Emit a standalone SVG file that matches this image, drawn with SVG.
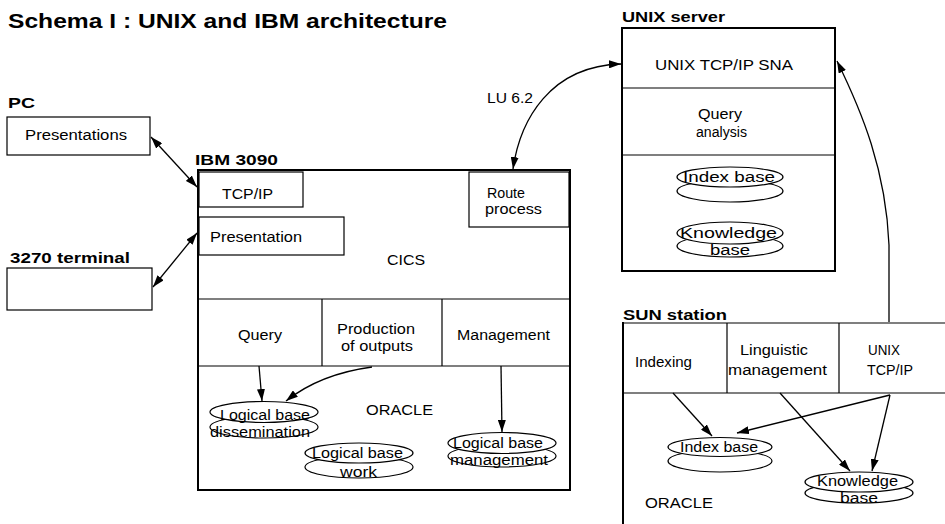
<svg xmlns="http://www.w3.org/2000/svg" width="945" height="524" viewBox="0 0 945 524">
<style>
text{font-family:"Liberation Sans",Arial,sans-serif;fill:#000;}
.t{font-size:20px;font-weight:bold;}
.lb{font-size:14px;font-weight:bold;}
.tx{font-size:14px;}
.box{fill:none;stroke:#000;stroke-width:2;}
.ln{fill:none;stroke:#000;stroke-width:1.2;}
.disk{fill:#fff;stroke:#000;stroke-width:1.2;}
.con{fill:none;stroke:#000;stroke-width:1.3;}
</style>
<defs>
<marker id="ah" viewBox="0 0 12 8" refX="12" refY="4" markerWidth="12" markerHeight="8" markerUnits="userSpaceOnUse" orient="auto-start-reverse">
<path d="M0,0 L12,4 L0,8 Z" fill="#000"/>
</marker>
</defs>
<rect width="945" height="524" fill="#fff"/>

<text class="t" x="8" y="28" textLength="439" lengthAdjust="spacingAndGlyphs">Schema I : UNIX and IBM architecture</text>

<g id="pc">
<text class="lb" x="8" y="108" textLength="27" lengthAdjust="spacingAndGlyphs">PC</text>
<rect class="ln" x="7" y="117" width="143" height="38"/>
<text class="tx" x="25" y="140" textLength="102" lengthAdjust="spacingAndGlyphs">Presentations</text>
</g>

<g id="terminal3270">
<text class="lb" x="10" y="263" textLength="120" lengthAdjust="spacingAndGlyphs">3270 terminal</text>
<rect class="ln" x="7" y="268" width="145" height="42"/>
</g>

<g id="ibm3090">
<text class="lb" x="195" y="165" textLength="83" lengthAdjust="spacingAndGlyphs">IBM 3090</text>
<rect class="box" x="198" y="170" width="372" height="320"/>
<rect class="ln" x="199" y="172" width="104" height="35"/>
<text class="tx" x="222" y="199" textLength="51" lengthAdjust="spacingAndGlyphs">TCP/IP</text>
<rect class="ln" x="199" y="217" width="145" height="38"/>
<text class="tx" x="210" y="242" textLength="92" lengthAdjust="spacingAndGlyphs">Presentation</text>
<rect class="ln" x="469" y="172" width="100" height="55"/>
<text class="tx" x="487" y="198" textLength="38" lengthAdjust="spacingAndGlyphs">Route</text>
<text class="tx" x="485" y="214" textLength="57" lengthAdjust="spacingAndGlyphs">process</text>
<text class="tx" x="387" y="265" textLength="38" lengthAdjust="spacingAndGlyphs">CICS</text>
<line class="ln" x1="198" y1="299" x2="570" y2="299"/>
<line class="ln" x1="322" y1="299" x2="322" y2="366"/>
<line class="ln" x1="442" y1="299" x2="442" y2="366"/>
<line class="ln" x1="198" y1="366" x2="570" y2="366"/>
<text class="tx" x="238" y="340" textLength="44" lengthAdjust="spacingAndGlyphs">Query</text>
<text class="tx" x="337" y="334" textLength="78" lengthAdjust="spacingAndGlyphs">Production</text>
<text class="tx" x="341" y="351" textLength="72" lengthAdjust="spacingAndGlyphs">of outputs</text>
<text class="tx" x="457" y="340" textLength="93" lengthAdjust="spacingAndGlyphs">Management</text>
<text class="tx" x="366" y="415" textLength="67" lengthAdjust="spacingAndGlyphs">ORACLE</text>
</g>

<g id="lb-dissemination">
<ellipse class="disk" cx="264" cy="427" rx="54" ry="11"/>
<ellipse class="disk" cx="264" cy="412" rx="54" ry="10.5"/>
<text class="tx" x="220" y="420" textLength="90" lengthAdjust="spacingAndGlyphs">Logical base</text>
<text class="tx" x="210" y="437" textLength="100" lengthAdjust="spacingAndGlyphs">dissemination</text>
</g>
<g id="lb-work">
<ellipse class="disk" cx="359" cy="467" rx="54" ry="11"/>
<ellipse class="disk" cx="359" cy="453" rx="54" ry="10"/>
<text class="tx" x="312" y="458" textLength="91" lengthAdjust="spacingAndGlyphs">Logical base</text>
<text class="tx" x="340" y="477" textLength="37" lengthAdjust="spacingAndGlyphs">work</text>
</g>
<g id="lb-management">
<ellipse class="disk" cx="502" cy="456" rx="54" ry="11"/>
<ellipse class="disk" cx="502" cy="443" rx="54" ry="10.5"/>
<text class="tx" x="453" y="448" textLength="90" lengthAdjust="spacingAndGlyphs">Logical base</text>
<text class="tx" x="450" y="465" textLength="98" lengthAdjust="spacingAndGlyphs">management</text>
</g>

<g id="unix-server">
<text class="lb" x="622" y="22" textLength="103" lengthAdjust="spacingAndGlyphs">UNIX server</text>
<rect class="box" x="622" y="28" width="213" height="243"/>
<line class="ln" x1="622" y1="88" x2="835" y2="88"/>
<line class="ln" x1="622" y1="155" x2="835" y2="155"/>
<text class="tx" x="655" y="70" textLength="138" lengthAdjust="spacingAndGlyphs">UNIX TCP/IP SNA</text>
<text class="tx" x="698" y="119" textLength="44" lengthAdjust="spacingAndGlyphs">Query</text>
<text class="tx" x="696" y="137" textLength="51" lengthAdjust="spacingAndGlyphs">analysis</text>
</g>
<g id="unix-index-base">
<ellipse class="disk" cx="730" cy="191" rx="53" ry="11"/>
<ellipse class="disk" cx="730" cy="177" rx="53" ry="10"/>
<text class="tx" x="683" y="182" textLength="92" lengthAdjust="spacingAndGlyphs">Index base</text>
</g>
<g id="unix-knowledge-base">
<ellipse class="disk" cx="730" cy="246" rx="53" ry="11"/>
<ellipse class="disk" cx="730" cy="233" rx="53" ry="11"/>
<text class="tx" x="680" y="238" textLength="97" lengthAdjust="spacingAndGlyphs">Knowledge</text>
<text class="tx" x="710" y="255" textLength="40" lengthAdjust="spacingAndGlyphs">base</text>
</g>

<g id="sun-station">
<text class="lb" x="623" y="320" textLength="104" lengthAdjust="spacingAndGlyphs">SUN station</text>
<line class="box" x1="623" y1="322" x2="623" y2="524"/>
<line class="ln" x1="623" y1="323" x2="945" y2="323"/>
<line class="ln" x1="623" y1="393" x2="945" y2="393"/>
<line class="ln" x1="727" y1="323" x2="727" y2="393"/>
<line class="ln" x1="839" y1="323" x2="839" y2="393"/>
<text class="tx" x="635" y="367" textLength="57" lengthAdjust="spacingAndGlyphs">Indexing</text>
<text class="tx" x="740" y="355" textLength="68" lengthAdjust="spacingAndGlyphs">Linguistic</text>
<text class="tx" x="728" y="375" textLength="99" lengthAdjust="spacingAndGlyphs">management</text>
<text class="tx" x="868" y="355" textLength="32" lengthAdjust="spacingAndGlyphs">UNIX</text>
<text class="tx" x="867" y="375" textLength="46" lengthAdjust="spacingAndGlyphs">TCP/IP</text>
<text class="tx" x="645" y="508" textLength="68" lengthAdjust="spacingAndGlyphs">ORACLE</text>
</g>
<g id="sun-index-base">
<ellipse class="disk" cx="720" cy="461" rx="52" ry="11"/>
<ellipse class="disk" cx="720" cy="447" rx="52" ry="9.5"/>
<text class="tx" x="680" y="452" textLength="78" lengthAdjust="spacingAndGlyphs">Index base</text>
</g>
<g id="sun-knowledge-base">
<ellipse class="disk" cx="859" cy="493" rx="54" ry="10"/>
<ellipse class="disk" cx="859" cy="482" rx="54" ry="10"/>
<text class="tx" x="817" y="486" textLength="81" lengthAdjust="spacingAndGlyphs">Knowledge</text>
<text class="tx" x="840" y="503" textLength="38" lengthAdjust="spacingAndGlyphs">base</text>
</g>

<g id="connectors">
<line class="con" x1="151" y1="137" x2="197" y2="187" marker-start="url(#ah)" marker-end="url(#ah)"/>
<line class="con" x1="153" y1="287" x2="197" y2="233" marker-start="url(#ah)" marker-end="url(#ah)"/>
<path class="con" d="M513,169 C520,120 550,66 621,64" marker-start="url(#ah)" marker-end="url(#ah)"/>
<text class="tx" x="487" y="103" textLength="46" lengthAdjust="spacingAndGlyphs">LU 6.2</text>
<path class="con" d="M889,322 L889,245 C886,170 862,112 837,61" marker-end="url(#ah)"/>
<line class="con" x1="259" y1="366" x2="262" y2="401" marker-end="url(#ah)"/>
<path class="con" d="M372,367 Q320,374 286,401" marker-end="url(#ah)"/>
<line class="con" x1="501" y1="366" x2="502" y2="432" marker-end="url(#ah)"/>
<line class="con" x1="673" y1="393" x2="712" y2="436" marker-end="url(#ah)"/>
<line class="con" x1="890" y1="395" x2="737" y2="433" marker-end="url(#ah)"/>
<line class="con" x1="780" y1="393" x2="850" y2="471" marker-end="url(#ah)"/>
<line class="con" x1="890" y1="395" x2="872" y2="471" marker-end="url(#ah)"/>
</g>
</svg>
